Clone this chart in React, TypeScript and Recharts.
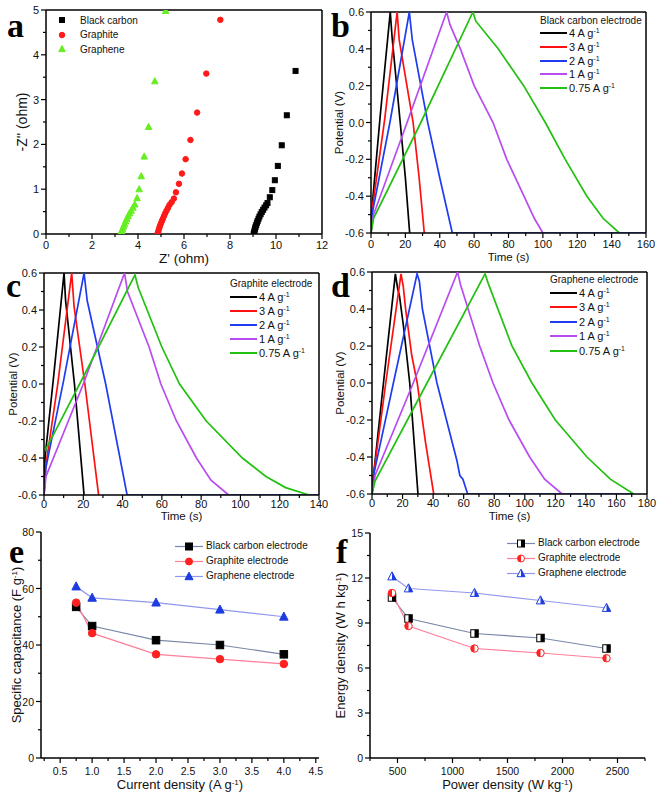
import React from 'react';
import { LineChart, Line, ScatterChart, Scatter, XAxis, YAxis, Legend, ReferenceLine, Label } from 'recharts';

const SANS = '"Liberation Sans", Arial, sans-serif';
const SERIF = '"Liberation Serif", "Times New Roman", serif';
const INK = '#111';

type P = [number, number];

// (a) Nyquist plots, [Z' ohm, -Z'' ohm]
const bcNyquist: P[] = [
  [9.03, 0.0], [9.05, 0.04], [9.07, 0.08], [9.09, 0.12], [9.11, 0.16], [9.14, 0.2], [9.17, 0.25], [9.2, 0.29],
  [9.24, 0.34], [9.28, 0.39], [9.33, 0.44], [9.38, 0.49], [9.44, 0.54], [9.5, 0.59], [9.57, 0.64], [9.63, 0.69],
  [9.73, 0.82], [9.84, 0.98], [9.95, 1.2], [10.08, 1.52], [10.25, 1.98], [10.47, 2.65], [10.85, 3.64],
];
const gtNyquist: P[] = [
  [4.85, 0.0], [4.87, 0.04], [4.9, 0.09], [4.93, 0.14], [4.96, 0.19], [5.0, 0.24], [5.04, 0.29], [5.08, 0.34],
  [5.13, 0.4], [5.18, 0.46], [5.24, 0.52], [5.3, 0.58], [5.37, 0.65], [5.46, 0.71], [5.56, 0.79], [5.65, 0.93],
  [5.78, 1.12], [5.91, 1.35], [6.07, 1.67], [6.28, 2.1], [6.57, 2.71], [6.97, 3.58], [7.58, 4.78],
];
const geNyquist: P[] = [
  [3.25, 0.02], [3.29, 0.07], [3.33, 0.12], [3.37, 0.17], [3.41, 0.22], [3.46, 0.28], [3.51, 0.34], [3.57, 0.4],
  [3.63, 0.46], [3.7, 0.52], [3.78, 0.59], [3.86, 0.66], [3.96, 0.8], [4.05, 1.0], [4.14, 1.29], [4.27, 1.73],
  [4.46, 2.39], [4.73, 3.41], [5.2, 4.98],
];
const nyquistNames = ['Black carbon', 'Graphite', 'Graphene'];
const nyquistColors = ['#000000', '#ff1a1a', '#66ee22'];

// (b)-(d) charge/discharge curves, [time s, potential V]
const currents = ['4', '3', '2', '1', '0.75'];
const gcdColors = ['#000000', '#ff1010', '#1f3cf0', '#b84cf0', '#22c010'];

const bc4: P[] = [[0, -0.6], [1, -0.42], [5.5, 0.05], [11.2, 0.6], [12.3, 0.46], [17, 0], [20, -0.3], [22.5, -0.6]];
const bc3: P[] = [[0, -0.6], [1, -0.45], [8, 0.02], [15.2, 0.6], [16.4, 0.45], [24.5, 0], [28, -0.3], [31, -0.6]];
const bc2: P[] = [[0, -0.6], [1, -0.48], [11, 0], [22.3, 0.6], [24, 0.45], [33, 0], [40, -0.3], [47.3, -0.6], [160, -0.6]];
const bc1: P[] = [[0, -0.6], [1.5, -0.5], [21, 0], [44, 0.6], [46, 0.53], [52, 0.4], [60, 0.2], [71, 0], [79, -0.2], [89, -0.4], [95, -0.52], [100, -0.6]];
const bc075: P[] = [[0, -0.6], [1.5, -0.52], [29, 0], [59.3, 0.6], [61, 0.55], [74, 0.4], [88.8, 0.2], [101.4, 0], [113, -0.2], [125.6, -0.4], [135, -0.52], [144.5, -0.6]];

const gt4: P[] = [[0, -0.6], [0.5, -0.4], [5, 0.05], [10.2, 0.6], [11, 0.45], [15.5, 0], [20.4, -0.6]];
const gt3: P[] = [[0, -0.6], [0.8, -0.45], [7, 0], [14.1, 0.6], [15.3, 0.42], [20.8, 0], [27.8, -0.6]];
const gt2: P[] = [[0, -0.6], [1, -0.45], [10, 0.02], [20.4, 0.6], [22, 0.45], [31.4, 0], [42.3, -0.6], [140, -0.6]];
const gt1: P[] = [[0, -0.6], [1, -0.5], [20, 0], [41, 0.6], [42.5, 0.5], [53.5, 0.2], [59.5, 0], [67.4, -0.2], [77.6, -0.4], [85, -0.52], [94, -0.6]];
const gt075: P[] = [[0, -0.37], [5, -0.27], [23, 0.1], [46.3, 0.59], [48, 0.52], [60, 0.2], [69, 0], [82.6, -0.2], [101, -0.4], [113, -0.5], [123, -0.56], [135, -0.6]];

const ge4: P[] = [[0, -0.6], [1, -0.5], [7.5, 0], [15.3, 0.59], [16.8, 0.51], [18, 0.47], [20.7, 0.3], [24.7, 0], [27.3, -0.29], [30.1, -0.6]];
const ge3: P[] = [[0, -0.6], [1, -0.5], [9, 0], [19, 0.59], [20.5, 0.52], [22, 0.4], [26, 0.15], [29.6, 0], [35, -0.32], [40.4, -0.6]];
const ge2: P[] = [[0, -0.6], [1.5, -0.48], [14, 0], [29.5, 0.59], [31, 0.55], [33, 0.4], [42.5, 0], [55.6, -0.42], [57.5, -0.5], [59.5, -0.52], [62.6, -0.6], [171, -0.6]];
const ge1: P[] = [[0, -0.6], [2, -0.5], [27, 0], [56, 0.6], [58, 0.53], [70.5, 0.2], [79.2, 0], [89.7, -0.2], [103.2, -0.4], [113, -0.52], [124.4, -0.6]];
const ge075: P[] = [[0, -0.6], [2, -0.53], [36, 0], [74, 0.59], [76, 0.54], [91.6, 0.2], [104.7, 0], [120, -0.2], [140.7, -0.4], [156, -0.52], [171.3, -0.6]];

// (e) specific capacitance vs current density
const currentDensity = [0.75, 1, 2, 3, 4];
const capBlackCarbon = [53.5, 46.7, 41.7, 40, 36.7];
const capGraphite = [55, 44.2, 36.7, 35, 33.3];
const capGraphene = [60.7, 56.7, 55, 52.5, 50];

// (f) energy density vs power density
const powerDensity = [450, 600, 1200, 1800, 2400];
const energyBlackCarbon = [10.7, 9.3, 8.3, 8.0, 7.3];
const energyGraphite = [11.0, 8.8, 7.3, 7.0, 6.65];
const energyGraphene = [12.1, 11.3, 11.0, 10.5, 10.0];

const electrodeNames = ['Black carbon electrode', 'Graphite electrode', 'Graphene electrode'];
const markerKinds = ['square', 'circle', 'triangle'];
const markerColors = ['#000000', '#ff2020', '#1c3ce0'];
const trendColors = ['#7888a8', '#ff7f9a', '#9098ee'];

const AXIS = { stroke: '#000', strokeWidth: 1.5 };

const steps = (lo: number, hi: number, step: number) => {
  const out: number[] = [];
  for (let i = 0; lo + i * step <= hi + 1e-9; i++) out.push(Math.round((lo + i * step) * 1000) / 1000);
  return out;
};
const isMajor = (v: number, major: number) => Math.abs(v / major - Math.round(v / major)) < 1e-6;

function xTick(major: number, labelDy: number, fmt: (v: number) => string = String, size = 11) {
  return (p: any) => {
    const { x, y, payload } = p;
    const m = isMajor(payload.value, major);
    return (
      <g>
        <line x1={x} x2={x} y1={y} y2={y + (m ? 5 : 3)} stroke="#000" strokeWidth={1.2} />
        {m && (
          <text x={x} y={y + labelDy} textAnchor="middle" fontSize={size} fontFamily={SANS} fill={INK}>
            {fmt(payload.value)}
          </text>
        )}
      </g>
    );
  };
}

function yTick(major: number, gap: number, fmt: (v: number) => string = String, size = 11) {
  return (p: any) => {
    const { x, y, payload } = p;
    const m = isMajor(payload.value, major);
    return (
      <g>
        <line x1={x} x2={x - (m ? 5 : 3)} y1={y} y2={y} stroke="#000" strokeWidth={1.2} />
        {m && (
          <text x={x - gap} y={y + 4} textAnchor="end" fontSize={size} fontFamily={SANS} fill={INK}>
            {fmt(payload.value)}
          </text>
        )}
      </g>
    );
  };
}

const unit = (pre: string, post = ')') => (
  <>
    {pre}
    <tspan baselineShift="super" fontSize="0.62em">-1</tspan>
    {post}
  </>
);

function xTitle(text: React.ReactNode, baseDy: number, size: number) {
  return ({ viewBox }: any) => (
    <text x={viewBox.x + viewBox.width / 2} y={viewBox.y + baseDy} textAnchor="middle" fontSize={size} fontFamily={SANS} fill={INK}>
      {text}
    </text>
  );
}

function yTitle(text: React.ReactNode, cx: number, size: number) {
  return ({ viewBox }: any) => {
    const cy = viewBox.y + viewBox.height / 2;
    return (
      <text x={cx} y={cy} dy={size * 0.36} transform={`rotate(-90 ${cx} ${cy})`} textAnchor="middle" fontSize={size} fontFamily={SANS} fill={INK}>
        {text}
      </text>
    );
  };
}

function Marker({ kind, cx, cy, s, color, half }: any) {
  const h = s / 2;
  if (kind === 'square') {
    return (
      <g>
        <rect x={cx - h} y={cy - h} width={s} height={s} fill={half ? '#fff' : color} stroke={color} strokeWidth={1} />
        {half && <rect x={cx} y={cy - h} width={h} height={s} fill={color} />}
      </g>
    );
  }
  if (kind === 'circle') {
    return (
      <g>
        <circle cx={cx} cy={cy} r={h} fill={half ? '#fff' : color} stroke={color} strokeWidth={1} />
        {half && <path d={`M${cx},${cy - h} A${h},${h} 0 0 0 ${cx},${cy + h} Z`} fill={color} />}
      </g>
    );
  }
  const top = cy - h * 1.1;
  const bot = cy + h * 0.8;
  return (
    <g>
      <polygon points={`${cx},${top} ${cx + h},${bot} ${cx - h},${bot}`} fill={half ? '#fff' : color} stroke={color} strokeWidth={1} strokeLinejoin="round" />
      {half && <polygon points={`${cx},${top} ${cx + h},${bot} ${cx},${bot}`} fill={color} />}
    </g>
  );
}

function PanelA() {
  const sets = [bcNyquist, gtNyquist, geNyquist];
  const sizes = [5, 5.5, 6.5];
  return (
    <div style={{ position: 'absolute', left: 0, top: 0 }}>
      <ScatterChart width={330} height={266} margin={{ top: 10, right: 8, left: 0, bottom: 0 }}>
        <XAxis type="number" dataKey="x" domain={[0, 12]} ticks={steps(0, 12, 1)} interval={0} tickSize={0} tickMargin={0}
          tickLine={false} tick={xTick(2, 15)} height={32} axisLine={AXIS} allowDataOverflow>
          <Label content={xTitle("Z' (ohm)", 29, 13.5)} />
        </XAxis>
        <YAxis type="number" dataKey="y" domain={[0, 5]} ticks={steps(0, 5, 0.5)} interval={0} tickSize={0} tickMargin={0}
          tickLine={false} tick={yTick(1, 7)} width={46} axisLine={AXIS} allowDataOverflow>
          <Label content={yTitle("-Z'' (ohm)", 22, 14)} />
        </YAxis>
        <ReferenceLine x={12} stroke="#000" strokeWidth={1.5} />
        <ReferenceLine y={5} stroke="#000" strokeWidth={1.5} />
        {sets.map((s, i) => (
          <Scatter key={i} data={s.map(([x, y]) => ({ x, y }))} isAnimationActive={false}
            shape={(p: any) => <Marker kind={markerKinds[i]} cx={p.cx} cy={p.cy} s={sizes[i]} color={nyquistColors[i]} />} />
        ))}
        <Legend layout="vertical" align="center" verticalAlign="middle" wrapperStyle={{ left: 56, top: 13, width: 'auto' }}
          content={() => (
            <div style={{ fontFamily: SANS, fontSize: 10, color: INK }}>
              {nyquistNames.map((n, i) => (
                <div key={n} style={{ display: 'flex', alignItems: 'center', height: 14.5 }}>
                  <svg width={12} height={12}>
                    <Marker kind={markerKinds[i]} cx={6} cy={6} s={sizes[i]} color={nyquistColors[i]} />
                  </svg>
                  <span style={{ marginLeft: 12 }}>{n}</span>
                </div>
              ))}
            </div>
          )} />
      </ScatterChart>
    </div>
  );
}

function GcdPanel({ box, margin, yw, xh, curves, xMax, title, legendAt, yTitleX, xTitleDy, xLabelDy, rowH }: any) {
  return (
    <div style={{ position: 'absolute', left: box[0], top: box[1] }}>
      <LineChart width={box[2]} height={box[3]} margin={margin}>
        <XAxis type="number" dataKey="t" domain={[0, xMax]} ticks={steps(0, xMax, 10)} interval={0} tickSize={0} tickMargin={0}
          tickLine={false} tick={xTick(20, xLabelDy)} height={xh} axisLine={AXIS} allowDataOverflow>
          <Label content={xTitle('Time (s)', xTitleDy, 11.5)} />
        </XAxis>
        <YAxis type="number" dataKey="v" domain={[-0.6, 0.6]} ticks={steps(-0.6, 0.6, 0.1)} interval={0} tickSize={0} tickMargin={0}
          tickLine={false} tick={yTick(0.2, 7, (v) => v.toFixed(1))} width={yw} axisLine={AXIS} allowDataOverflow>
          <Label content={yTitle('Potential (V)', yTitleX, 11.5)} />
        </YAxis>
        <ReferenceLine x={xMax} stroke="#000" strokeWidth={1.5} />
        <ReferenceLine y={0.6} stroke="#000" strokeWidth={1.5} />
        {curves.map((c: P[], i: number) => (
          <Line key={i} type="linear" data={c.map(([t, v]) => ({ t, v }))} dataKey="v" stroke={gcdColors[i]} strokeWidth={1.7}
            dot={false} isAnimationActive={false} />
        ))}
        <Legend layout="vertical" align="center" verticalAlign="middle" wrapperStyle={{ left: legendAt[0], top: legendAt[1], width: 'auto' }}
          content={() => (
            <div style={{ fontFamily: SANS, color: INK }}>
              <div style={{ fontSize: 10, height: 13, lineHeight: '13px', whiteSpace: 'nowrap' }}>{title}</div>
              {currents.map((c, i) => (
                <div key={c} style={{ display: 'flex', alignItems: 'center', height: rowH, fontSize: 11, whiteSpace: 'nowrap' }}>
                  <span style={{ width: 27, height: 2, background: gcdColors[i], marginRight: 2 }} />
                  <span>
                    {c} A g<span style={{ fontSize: 7, position: 'relative', top: -4 }}>-1</span>
                  </span>
                </div>
              ))}
            </div>
          )} />
      </LineChart>
    </div>
  );
}

function TrendLegend({ half, lineStart, markerX, textX }: any) {
  return (
    <div style={{ fontFamily: SANS, fontSize: 10, color: INK }}>
      {electrodeNames.map((n, i) => (
        <div key={n} style={{ position: 'relative', height: 15, whiteSpace: 'nowrap' }}>
          <svg width={textX} height={15} style={{ position: 'absolute', left: 0, top: 0 }}>
            <line x1={lineStart} x2={lineStart + 28} y1={7.5} y2={7.5} stroke={trendColors[i]} strokeWidth={1.2} />
            <Marker kind={markerKinds[i]} cx={markerX} cy={7.5} s={i === 2 ? 8 : 7} color={markerColors[i]} half={half} />
          </svg>
          <span style={{ position: 'absolute', left: textX, top: 1 }}>{n}</span>
        </div>
      ))}
    </div>
  );
}

function TrendPanel({ box, margin, yw, xs, series, xDomain, xTicks, xMajor, xFmt, yMax, yStep, yMajor, half, xTitleText, yTitleText, yTitleX, legendAt }: any) {
  const rows = xs.map((x: number, i: number) => ({ x, s0: series[0][i], s1: series[1][i], s2: series[2][i] }));
  return (
    <div style={{ position: 'absolute', left: box[0], top: box[1] }}>
      <LineChart width={box[2]} height={box[3]} margin={margin} data={rows}>
        <XAxis type="number" dataKey="x" domain={xDomain} ticks={xTicks} interval={0} tickSize={0} tickMargin={0}
          tickLine={false} tick={xTick(xMajor, 17, xFmt, 10.5)} height={37} axisLine={AXIS} allowDataOverflow>
          <Label content={xTitle(xTitleText, 31, 13)} />
        </XAxis>
        <YAxis type="number" domain={[0, yMax]} ticks={steps(0, yMax, yStep)} interval={0} tickSize={0} tickMargin={0}
          tickLine={false} tick={yTick(yMajor, 7, String, 10.5)} width={yw} axisLine={AXIS} allowDataOverflow>
          <Label content={yTitle(yTitleText, yTitleX, 13)} />
        </YAxis>
        {['s0', 's1', 's2'].map((k, i) => (
          <Line key={k} type="linear" dataKey={k} stroke={trendColors[i]} strokeWidth={1.2} isAnimationActive={false}
            dot={(p: any) => <Marker key={p.index} kind={markerKinds[i]} cx={p.cx} cy={p.cy} s={i === 2 ? 8.5 : 7.5} color={markerColors[i]} half={half} />} />
        ))}
        <Legend layout="vertical" align="center" verticalAlign="middle" wrapperStyle={{ left: legendAt[0], top: legendAt[1], width: 'auto' }}
          content={() => <TrendLegend half={half} lineStart={0} markerX={14} textX={legendAt[2]} />} />
      </LineChart>
    </div>
  );
}

// panel letters: [letter, left, baseline]
const letters: [string, number, number][] = [
  ['a', 7, 37], ['b', 331, 37], ['c', 6, 297], ['d', 331, 297], ['e', 9, 563], ['f', 336, 563],
];

export default function App() {
  return (
    <div style={{ position: 'absolute', left: 0, top: 0, width: 661, height: 795, background: '#fff', overflow: 'hidden' }}>
      <style>{'.recharts-surface{overflow:visible}'}</style>
      <PanelA />
      <GcdPanel box={[330, 0, 331, 266]} margin={{ top: 12, right: 15, left: 0, bottom: 0 }} yw={41} xh={33}
        curves={[bc4, bc3, bc2, bc1, bc075]} xMax={160} title="Black carbon electrode" legendAt={[210, 13.5]}
        yTitleX={9} xTitleDy={28} xLabelDy={15} rowH={13.7} />
      <GcdPanel box={[0, 266, 330, 264]} margin={{ top: 7, right: 11, left: 0, bottom: 0 }} yw={44} xh={35}
        curves={[gt4, gt3, gt2, gt1, gt075]} xMax={140} title="Graphite electrode" legendAt={[230, 10.5]}
        yTitleX={12.5} xTitleDy={25} xLabelDy={13} rowH={14.2} />
      <GcdPanel box={[330, 266, 331, 264]} margin={{ top: 6, right: 14, left: 0, bottom: 0 }} yw={42} xh={36}
        curves={[ge4, ge3, ge2, ge1, ge075]} xMax={180} title="Graphene electrode" legendAt={[220, 6.5]}
        yTitleX={10} xTitleDy={26} xLabelDy={13} rowH={14.5} />
      <TrendPanel box={[0, 530, 330, 265]} margin={{ top: 2, right: 11, left: 0, bottom: 0 }} yw={41}
        xs={currentDensity} series={[capBlackCarbon, capGraphite, capGraphene]} xDomain={[0.2, 4.55]}
        xTicks={steps(0.25, 4.5, 0.25)} xMajor={0.5} xFmt={(v: number) => v.toFixed(1)} yMax={80} yStep={10} yMajor={20}
        half={false} xTitleText={unit('Current density (A g')} yTitleText={unit('Specific capacitance (F g')}
        yTitleX={16} legendAt={[175, 8.5, 31]} />
      <TrendPanel box={[330, 530, 331, 265]} margin={{ top: 3, right: 16, left: 0, bottom: 0 }} yw={40}
        xs={powerDensity} series={[energyBlackCarbon, energyGraphite, energyGraphene]} xDomain={[250, 2750]}
        xTicks={steps(250, 2750, 250)} xMajor={500} xFmt={String} yMax={15} yStep={1.5} yMajor={3}
        half={true} xTitleText={unit('Power density (W kg')} yTitleText={unit('Energy density (W h kg')}
        yTitleX={10} legendAt={[177, 5.5, 31]} />
      {letters.map(([l, x, base]) => (
        <div key={l} style={{ position: 'absolute', left: x, top: base - 21.5, fontFamily: SERIF, fontWeight: 'bold', fontSize: 34, lineHeight: '20px', color: '#000' }}>
          {l}
        </div>
      ))}
    </div>
  );
}
